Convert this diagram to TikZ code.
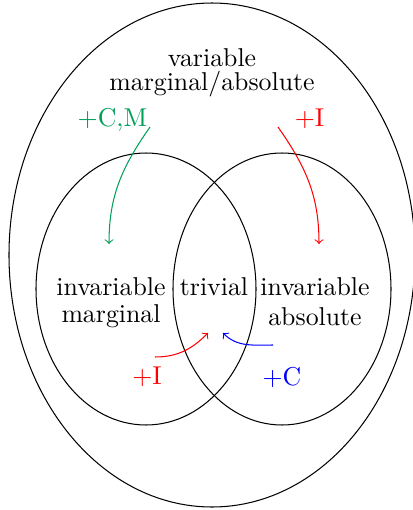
\documentclass[tikz,border=0pt]{standalone}
\usetikzlibrary{shapes.geometric}
\definecolor{mygreen}{RGB}{0,160,90}
\begin{document}
\begin{tikzpicture}[x=0.3876pt,y=-0.3876pt,
  lbl/.style={inner sep=0pt,align=center},
  arr/.style={->}]
\useasboundingbox (0,0) rectangle (412,510);
\draw (212,255) ellipse [x radius=203, y radius=252];
\draw (146,289) ellipse [x radius=110, y radius=136];
\draw (282,289) ellipse [x radius=109, y radius=136];
\node[lbl,font=\fontsize{10}{9.3}\selectfont] (var) at (212,72.3) {variable\\marginal/absolute};
\node[lbl,font=\fontsize{10}{10.35}\selectfont] (im) at (111,302.9) {invariable\\marginal};
\node[lbl,font=\fontsize{10}{11.6}\selectfont] (ia) at (315,302) {invariable\\absolute};
\node[lbl] (tr) at (214,287) {trivial};
\node[lbl,text=mygreen] (cm) at (112.5,119.5) {+C,M};
\node[lbl,text=red] (itop) at (309.5,119) {+I};
\node[lbl,text=red] (ibot) at (147,377) {+I};
\node[lbl,text=blue] (cbot) at (282,377) {+C};
\coordinate (g1) at (150,127);
\coordinate (g2) at (109,244);
\coordinate (r1) at (278,127);
\coordinate (r2) at (319,244);
\coordinate (b1) at (155,357);
\coordinate (b2) at (208,333);
\coordinate (c1) at (273,345);
\coordinate (c2) at (223,333);
\draw[arr,mygreen] (g1) to[out=-125,in=90] (g2);
\draw[arr,red] (r1) to[out=-55,in=90] (r2);
\draw[arr,red] (b1) to[out=0,in=-135] (b2);
\draw[arr,blue] (c1) to[out=180,in=-45] (c2);
\end{tikzpicture}
\end{document}
